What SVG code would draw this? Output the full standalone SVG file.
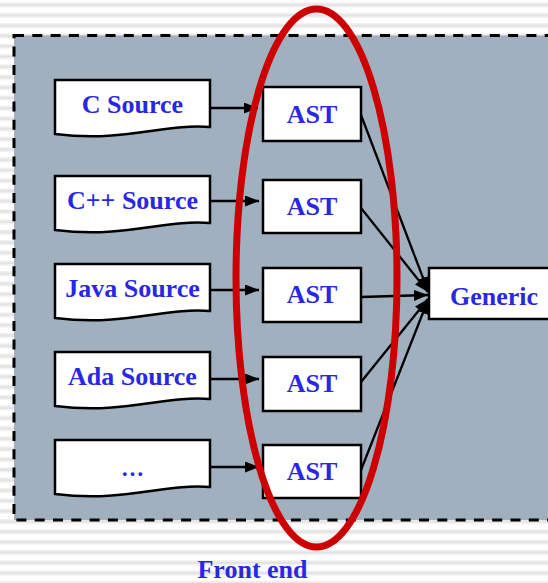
<svg xmlns="http://www.w3.org/2000/svg" width="548" height="583" viewBox="0 0 548 583">
  <defs>
    <pattern id="stripes" width="548" height="10.33" patternUnits="userSpaceOnUse" y="0.5">
      <rect width="548" height="10.33" fill="#ffffff"/>
      <rect y="3" width="548" height="3" fill="#e4e4e4"/>
      <rect y="2" width="548" height="1" fill="#f0f0f0"/>
      <rect y="6" width="548" height="1" fill="#f0f0f0"/>
    </pattern>
    <marker id="arrow" viewBox="0 0 14 11" refX="14" refY="5.5" markerWidth="14" markerHeight="11" markerUnits="userSpaceOnUse" orient="auto">
      <path d="M0,0 L14,5.5 L0,11 Z" fill="#000"/>
    </marker>
    <style>
      .box { fill: #ffffff; stroke: #000; stroke-width: 2.5; }
      .label { font-family: "Liberation Serif", "Times New Roman", serif; font-weight: bold; font-size: 26px; fill: #2828e4; text-anchor: middle; }
      .conn { stroke: #000; stroke-width: 2.3; fill: none; marker-end: url(#arrow); }
    </style>
  </defs>

  <!-- striped page background -->
  <rect width="548" height="583" fill="url(#stripes)"/>

  <!-- front-end panel -->
  <rect id="panel" x="14" y="35.5" width="560" height="484.5" fill="#a1b0bf" stroke="#000" stroke-width="3" stroke-dasharray="10 8.3"/>

  <!-- source documents -->
  <g id="src-c">
    <path class="box" d="M55,80 H210 V127 C165,123 125,143 55,134 Z"/>
    <text class="label" x="132.5" y="113">C Source</text>
  </g>
  <g id="src-cpp">
    <path class="box" d="M55,176 H210 V223 C165,219 125,239 55,230 Z"/>
    <text class="label" x="132.5" y="209">C++ Source</text>
  </g>
  <g id="src-java">
    <path class="box" d="M55,264 H210 V311 C165,307 125,327 55,318 Z"/>
    <text class="label" x="132.5" y="297">Java Source</text>
  </g>
  <g id="src-ada">
    <path class="box" d="M55,352 H210 V399 C165,395 125,415 55,406 Z"/>
    <text class="label" x="132.5" y="385">Ada Source</text>
  </g>
  <g id="src-more">
    <path class="box" d="M55,440 H210 V487 C165,483 125,503 55,494 Z"/>
    <text class="label" x="132.5" y="476" style="font-size:23px">…</text>
  </g>

  <!-- abstract syntax trees -->
  <g id="ast-1">
    <rect class="box" x="263" y="87" width="98" height="54"/>
    <text class="label" x="312" y="123">AST</text>
  </g>
  <g id="ast-2">
    <rect class="box" x="263" y="180" width="98" height="53"/>
    <text class="label" x="312" y="215">AST</text>
  </g>
  <g id="ast-3">
    <rect class="box" x="263" y="268" width="98" height="54"/>
    <text class="label" x="312" y="303">AST</text>
  </g>
  <g id="ast-4">
    <rect class="box" x="263" y="357" width="98" height="54"/>
    <text class="label" x="312" y="392">AST</text>
  </g>
  <g id="ast-5">
    <rect class="box" x="263" y="445" width="98" height="53"/>
    <text class="label" x="312" y="480">AST</text>
  </g>

  <!-- generic representation -->
  <g id="generic">
    <rect class="box" x="429" y="268" width="130" height="51"/>
    <text class="label" x="494" y="305">Generic</text>
  </g>

  <!-- connectors -->
  <g id="connectors">
    <line class="conn" x1="210" y1="108" x2="258" y2="108"/>
    <line class="conn" x1="210" y1="201" x2="259" y2="201"/>
    <line class="conn" x1="210" y1="290" x2="259" y2="290"/>
    <line class="conn" x1="210" y1="379" x2="259" y2="379"/>
    <line class="conn" x1="210" y1="467" x2="259" y2="467"/>
    <line class="conn" x1="361" y1="115" x2="428" y2="291"/>
    <line class="conn" x1="361" y1="208" x2="428" y2="292"/>
    <line class="conn" x1="361" y1="297" x2="428" y2="295"/>
    <line class="conn" x1="361" y1="382" x2="428" y2="299"/>
    <line class="conn" x1="361" y1="470" x2="428" y2="300"/>
  </g>

  <!-- front-end highlight -->
  <ellipse id="highlight" cx="316.5" cy="278" rx="80.5" ry="269" fill="none" stroke="#cc0000" stroke-width="7"/>

  <text id="caption" class="label" x="252.5" y="578">Front end</text>
</svg>
